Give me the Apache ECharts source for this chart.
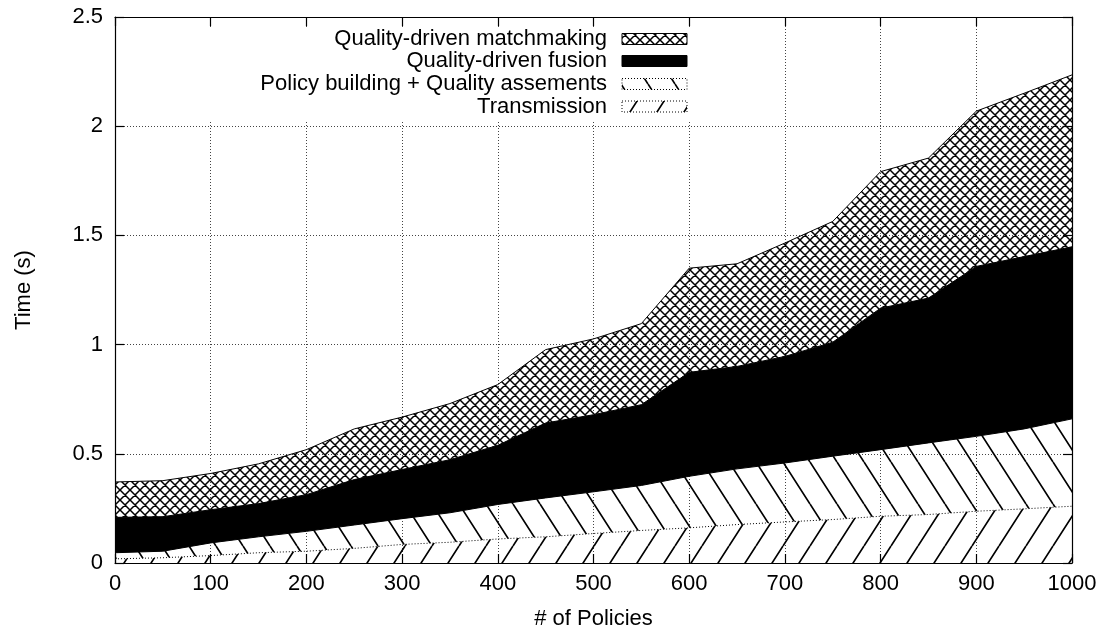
<!DOCTYPE html>
<html><head><meta charset="utf-8">
<script src="https://cdn.jsdelivr.net/npm/echarts@6/dist/echarts.min.js"></script>
<style>html,body{margin:0;padding:0;background:#fff}#c{width:1108px;height:635px}</style>
</head><body><div id="c"></div>
<script>
// ---- data ----
const policies = ['0','50','100','150','200','250','300','350','400','450','500','550','600','650','700','750','800','850','900','950','1000'];
const transmission   = [0.019,0.024,0.034,0.047,0.054,0.067,0.085,0.095,0.110,0.120,0.135,0.149,0.161,0.176,0.188,0.199,0.214,0.222,0.237,0.248,0.260];
const policyBuilding = [0.028,0.030,0.058,0.073,0.091,0.107,0.118,0.135,0.158,0.178,0.191,0.206,0.236,0.255,0.270,0.290,0.305,0.328,0.343,0.366,0.400];
const fusion         = [0.162,0.158,0.152,0.152,0.168,0.208,0.225,0.243,0.271,0.343,0.353,0.370,0.476,0.469,0.488,0.522,0.648,0.663,0.778,0.789,0.788];
const matchmaking    = [0.162,0.165,0.166,0.182,0.206,0.232,0.240,0.257,0.278,0.336,0.347,0.371,0.477,0.470,0.519,0.553,0.625,0.641,0.711,0.748,0.787];
const seriesNames = ['Transmission','Policy building + Quality assements','Quality-driven fusion','Quality-driven matchmaking'];
const legendOrder = ['Quality-driven matchmaking','Quality-driven fusion','Policy building + Quality assements','Transmission'];

const FONT = "'Liberation Sans', Arial, Helvetica, sans-serif";
const FS = 22;

function tile(w, h, lw, draw) {
  const c = document.createElement('canvas');
  c.width = w; c.height = h;
  const g = c.getContext('2d');
  g.strokeStyle = '#000'; g.lineWidth = lw; g.lineCap = 'butt';
  draw(g, w, h);
  return c;
}
const slashTile = tile(27, 42, 1.7, (g, w, h) => {
  g.beginPath();
  for (let k = -1; k <= 1; k++) { g.moveTo(k * w, h); g.lineTo(k * w + w, 0); }
  g.stroke();
});
const backTile = tile(27, 42, 1.7, (g, w, h) => {
  g.beginPath();
  for (let k = -1; k <= 1; k++) { g.moveTo(k * w, 0); g.lineTo(k * w + w, h); }
  g.stroke();
});
const crossTile = tile(10, 10, 1.5, (g, w, h) => {
  g.beginPath();
  for (let k = -1; k <= 1; k++) {
    g.moveTo(k * w, 0); g.lineTo(k * w + w, h);
    g.moveTo(k * w, h); g.lineTo(k * w + w, 0);
  }
  g.stroke();
});
const pat = c => ({ image: c, repeat: 'repeat' });
const fills = {
  'Transmission': pat(slashTile),
  'Policy building + Quality assements': pat(backTile),
  'Quality-driven fusion': '#000',
  'Quality-driven matchmaking': pat(crossTile)
};
const borders = {
  'Transmission': [1, 2],
  'Policy building + Quality assements': [1, 2],
  'Quality-driven fusion': null,
  'Quality-driven matchmaking': null
};
const values = [transmission, policyBuilding, fusion, matchmaking];

const series = seriesNames.map((name, si) => ({
  name, type: 'line', stack: 'total', symbol: 'none', smooth: false,
  data: values[si],
  lineStyle: { color: '#000', width: 1, type: si === 0 ? [1, 2] : 'solid' },
  areaStyle: { color: fills[name], opacity: 1 },
  itemStyle: { color: '#000' },
  z: 2 + si
}));

// legend (gnuplot-style key: right-aligned text, swatch on right, opaque box)
const keyCenters = [39, 61, 84, 106.5];
const graphic = [{
  type: 'rect', z: 5, silent: true,
  shape: { x: 160, y: 27, width: 540, height: 95 },
  style: { fill: '#fff' }
}];
legendOrder.forEach((name, i) => {
  graphic.push({
    type: 'text', z: 6, silent: true, x: 607, y: keyCenters[i],
    style: { text: name, font: FS + 'px ' + FONT, fill: '#000', align: 'right', verticalAlign: 'middle' }
  });
  const r = {
    type: 'rect', z: 6, silent: true,
    shape: { x: 622, y: keyCenters[i] - 5.5, width: 65, height: 11 },
    style: { fill: fills[name], stroke: '#000', lineWidth: 1 }
  };
  if (borders[name]) r.style.lineDash = borders[name];
  graphic.push(r);
});

const axisLine = { show: true, onZero: false, lineStyle: { color: '#000', width: 1.2 } };
const tickY = { show: true, inside: true, length: 9, lineStyle: { color: '#000', width: 1.2 } };
const tickX = { show: true, inside: true, length: 9, interval: 1, lineStyle: { color: '#000', width: 1.2 } };
const gridLn = { show: true, lineStyle: { color: '#444', width: 1, type: [1, 2] } };
const gridLnX = { show: true, interval: 1, lineStyle: { color: '#444', width: 1, type: [1, 2] } };
const lbl = { color: '#000', fontSize: FS, fontFamily: FONT };

const option = {
  animation: false,
  backgroundColor: '#fff',
  grid: { left: 115, right: 36, top: 17, bottom: 71.5, show: false },
  xAxis: [
    { type: 'category', data: policies, boundaryGap: false, position: 'bottom',
      axisLine, axisTick: tickX, splitLine: gridLnX,
      axisLabel: Object.assign({ margin: 10, interval: 1 }, lbl),
      name: '# of Policies', nameLocation: 'middle', nameGap: 45,
      nameTextStyle: { color: '#000', fontSize: FS, fontFamily: FONT } },
    { type: 'category', data: policies, boundaryGap: false, position: 'top',
      axisLine, axisTick: tickX, splitLine: { show: false }, axisLabel: { show: false } }
  ],
  yAxis: [
    { type: 'value', min: 0, max: 2.5, interval: 0.5, position: 'left',
      axisLine, axisTick: tickY, splitLine: gridLn,
      axisLabel: Object.assign({ margin: 12 }, lbl),
      name: 'Time (s)', nameLocation: 'middle', nameGap: 80,
      nameTextStyle: { color: '#000', fontSize: FS, fontFamily: FONT } },
    { type: 'value', min: 0, max: 2.5, interval: 0.5, position: 'right',
      axisLine, axisTick: tickY, splitLine: { show: false }, axisLabel: { show: false } }
  ],
  series,
  graphic
};
const chart = echarts.init(document.getElementById('c'), null, { renderer: 'canvas' });
chart.setOption(option);
</script>
</body></html>
